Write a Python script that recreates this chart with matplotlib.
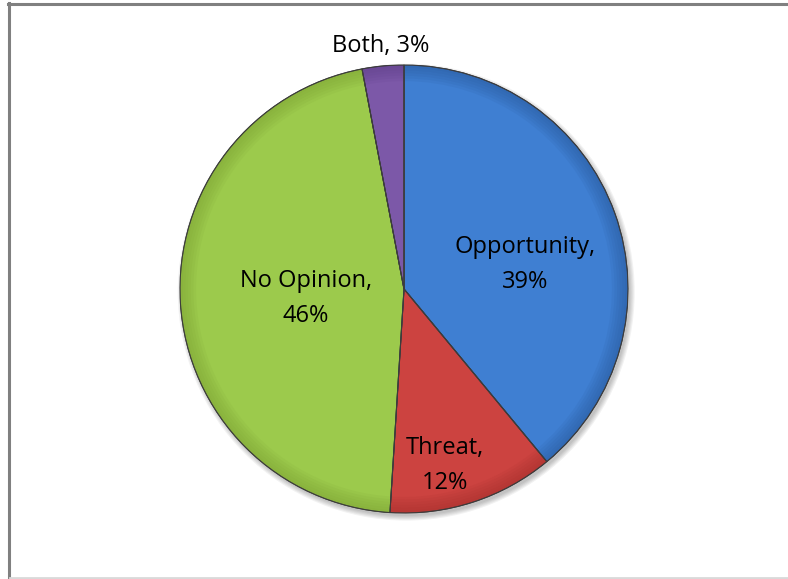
import numpy as np
import matplotlib.pyplot as plt
from matplotlib.lines import Line2D
from matplotlib.patches import Circle, Wedge

labels = ["Opportunity", "Threat", "No Opinion", "Both"]
values = [39, 12, 46, 3]
colors = ["#3f7fd2", "#cc4340", "#9cca4c", "#7c58a8"]
rim_colors = ["#2a5a9c", "#a6302d", "#7ea435", "#5e3f88"]

# label placement: radial distance (fraction of radius) and angle nudge in degrees
label_r = [0.55, 0.81, 0.44, 1.09]
label_shift = [-8.5, -5, 2, 0]
label_text = ["Opportunity,\n39%", "Threat,\n12%", "No Opinion,\n46%", "Both, 3%"]

fig = plt.figure(figsize=(7.88, 5.79), dpi=100)
ax = fig.add_axes([180 / 788, 66 / 579, 448 / 788, 448 / 579])

# soft drop shadow
for k in range(5):
    ax.add_patch(Circle((0.01, -0.014), 1.0 + 0.005 * k, color="black",
                        alpha=0.05, lw=0, zorder=0, clip_on=False))

wedges, _ = ax.pie(values, colors=colors, startangle=90, counterclock=False,
                   wedgeprops=dict(edgecolor="#3c3c3c", linewidth=0.8))

# darker rim to hint at the bevel
for w, rc in zip(wedges, rim_colors):
    for k in range(6):
        ax.add_patch(Wedge((0, 0), 1.0, w.theta1, w.theta2, width=0.012 * (k + 1),
                           color=rc, alpha=0.12, lw=0, zorder=w.get_zorder() + 0.1))
    ax.add_patch(Wedge((0, 0), 1.0, w.theta1, w.theta2, fill=False,
                       edgecolor="#3c3c3c", lw=0.7, zorder=w.get_zorder() + 0.2))

for w, r, sh, txt in zip(wedges, label_r, label_shift, label_text):
    ang = np.deg2rad((w.theta1 + w.theta2) / 2 + sh)
    ax.text(r * np.cos(ang), r * np.sin(ang), txt, ha="center", va="center",
            fontsize=17, family="Open Sans", linespacing=1.6, color="black", zorder=10)

ax.set_xlim(-1, 1)
ax.set_ylim(-1, 1)
ax.set_aspect("equal")
ax.axis("off")

# chart border
fig.add_artist(Line2D([9 / 788, 9 / 788], [0, 1 - 3 / 579], color="#808080", lw=2.2, transform=fig.transFigure))
fig.add_artist(Line2D([8 / 788, 1], [1 - 4 / 579, 1 - 4 / 579], color="#808080", lw=2.2, transform=fig.transFigure))
fig.add_artist(Line2D([10 / 788, 1], [1.5 / 579, 1.5 / 579], color="#d9d9d9", lw=2, transform=fig.transFigure))

fig.savefig("out.png", dpi=100)
